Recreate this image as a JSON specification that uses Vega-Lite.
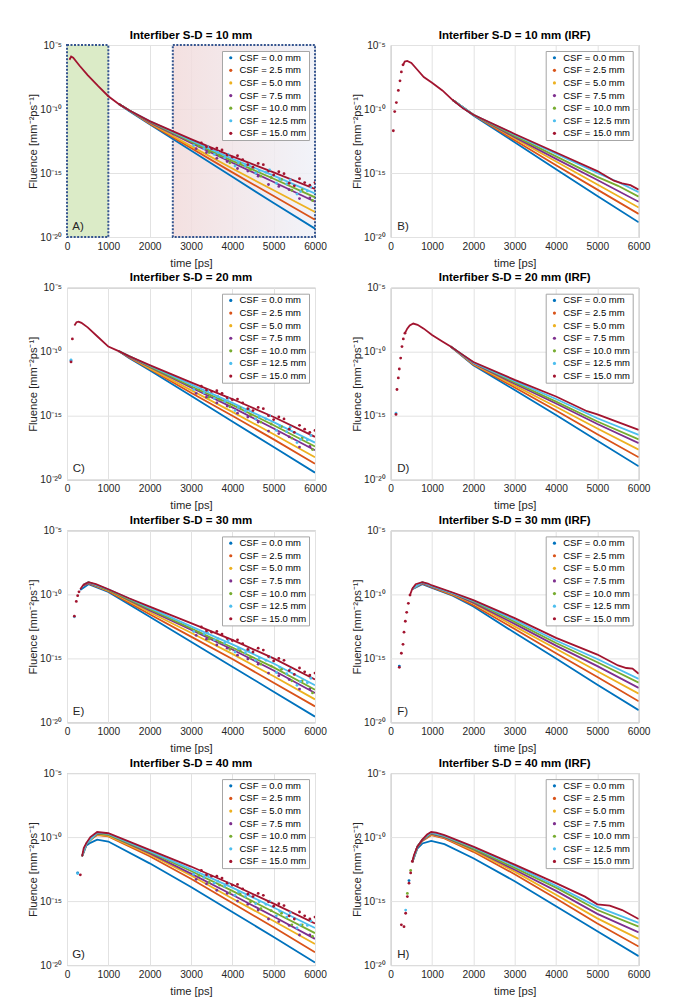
{
"$schema": "https://vega.github.io/schema/vega-lite/v6.json",
"padding": {"left": 27, "top": 29, "right": 0, "bottom": 0},
"config": {
  "font": "Liberation Sans",
  "view": {"stroke": "#a6a6a6", "strokeWidth": 1},
  "axis": {"domain": false, "ticks": false, "grid": true, "labelFlush": false, "gridColor": "#e2e2e2", "gridWidth": 1, "labelFont": "Liberation Sans", "labelFontSize": 10.2, "labelColor": "#262626", "titleFont": "Liberation Sans", "titleFontSize": 11.2, "titleFontWeight": "normal", "titleColor": "#262626"},
  "axisX": {"labelPadding": 4, "titlePadding": 6},
  "axisY": {"labelPadding": 5.5, "titlePadding": 1},
  "title": {"fontSize": 11.5, "fontWeight": "bold", "color": "#000000", "offset": -1, "anchor": "middle", "font": "Liberation Sans"},
  "legend": {"fillColor": "#ffffff", "strokeColor": "#a6a6a6", "padding": 2, "symbolOffset": 2, "rowPadding": 1.6, "labelFontSize": 9.5, "labelColor": "#000000", "labelOffset": 4, "symbolSize": 10, "symbolType": "circle", "labelFont": "Liberation Sans"}
},
"datasets": {
"A": [
{"c":0,"t":1250,"f":2.51e-10},{"c":0,"t":1500,"f":7.08e-11},{"c":0,"t":2000,"f":6.31e-12},{"c":0,"t":3000,"f":5.62e-14},{"c":0,"t":4000,"f":5.01e-16},{"c":0,"t":5000,"f":4.47e-18},{"c":0,"t":6000,"f":4.47e-20},
{"c":2.5,"t":1250,"f":2.51e-10},{"c":2.5,"t":1500,"f":7.94e-11},{"c":2.5,"t":2000,"f":7.08e-12},{"c":2.5,"t":3000,"f":8.91e-14},{"c":2.5,"t":4000,"f":1.12e-15},{"c":2.5,"t":5000,"f":1.58e-17},{"c":2.5,"t":6000,"f":2.24e-19},
{"c":5,"t":1250,"f":2.51e-10},{"c":5,"t":1500,"f":7.94e-11},{"c":5,"t":2000,"f":7.94e-12},{"c":5,"t":3000,"f":1.26e-13},{"c":5,"t":4000,"f":2.24e-15},{"c":5,"t":5000,"f":4.47e-17},{"c":5,"t":6000,"f":8.91e-19},
{"c":7.5,"t":1250,"f":2.51e-10},{"c":7.5,"t":1500,"f":7.94e-11},{"c":7.5,"t":2000,"f":8.91e-12},{"c":7.5,"t":3000,"f":2.24e-13},{"c":7.5,"t":4000,"f":6.31e-15},{"c":7.5,"t":5000,"f":2.0e-16},{"c":7.5,"t":6000,"f":5.62e-18},
{"c":10,"t":1250,"f":2.51e-10},{"c":10,"t":1500,"f":7.94e-11},{"c":10,"t":2000,"f":1e-11},{"c":10,"t":3000,"f":2.82e-13},{"c":10,"t":4000,"f":8.91e-15},{"c":10,"t":5000,"f":3.55e-16},{"c":10,"t":6000,"f":1.26e-17},
{"c":12.5,"t":1250,"f":2.51e-10},{"c":12.5,"t":1500,"f":7.94e-11},{"c":12.5,"t":2000,"f":1.12e-11},{"c":12.5,"t":3000,"f":3.55e-13},{"c":12.5,"t":4000,"f":1.26e-14},{"c":12.5,"t":5000,"f":6.31e-16},{"c":12.5,"t":6000,"f":2.51e-17},
{"c":15,"t":60,"f":7.08e-7},{"c":15,"t":100,"f":1.26e-6},{"c":15,"t":150,"f":1e-6},{"c":15,"t":300,"f":2.51e-7},{"c":15,"t":500,"f":4.47e-8},{"c":15,"t":750,"f":6.31e-9},{"c":15,"t":1000,"f":1e-9},{"c":15,"t":1250,"f":2.51e-10},{"c":15,"t":1500,"f":7.94e-11},{"c":15,"t":2000,"f":1.12e-11},{"c":15,"t":3000,"f":4.47e-13},{"c":15,"t":4000,"f":2.0e-14},{"c":15,"t":5000,"f":1.12e-15},{"c":15,"t":6000,"f":5.62e-17}
],
"Ap": [
{"c":7.5,"t":3125,"f":7.94e-14},{"c":7.5,"t":3375,"f":3.98e-14},{"c":7.5,"t":3625,"f":1.41e-14},{"c":7.5,"t":3875,"f":7.94e-15},{"c":7.5,"t":4125,"f":2.24e-15},{"c":7.5,"t":4375,"f":1.41e-15},{"c":7.5,"t":4625,"f":5.62e-16},{"c":7.5,"t":4875,"f":1.26e-16},{"c":7.5,"t":5125,"f":8.91e-17},{"c":7.5,"t":5375,"f":5.01e-17},{"c":7.5,"t":5625,"f":1e-17},{"c":7.5,"t":5875,"f":1.12e-17},
{"c":10,"t":3190,"f":1.26e-13},{"c":10,"t":3440,"f":3.98e-14},{"c":10,"t":3690,"f":2.24e-14},{"c":10,"t":3940,"f":6.31e-15},{"c":10,"t":4190,"f":5.62e-15},{"c":10,"t":4440,"f":1.78e-15},{"c":10,"t":4690,"f":5.62e-16},{"c":10,"t":4940,"f":4.47e-16},{"c":10,"t":5190,"f":3.16e-16},{"c":10,"t":5440,"f":4.47e-17},{"c":10,"t":5690,"f":5.01e-17},{"c":10,"t":5940,"f":7.08e-18},
{"c":12.5,"t":3065,"f":1.41e-13},{"c":12.5,"t":3315,"f":7.94e-14},{"c":12.5,"t":3565,"f":2.82e-14},{"c":12.5,"t":3815,"f":1.58e-14},{"c":12.5,"t":4065,"f":3.55e-15},{"c":12.5,"t":4315,"f":3.55e-15},{"c":12.5,"t":4565,"f":1e-15},{"c":12.5,"t":4815,"f":1.12e-15},{"c":12.5,"t":5065,"f":1.58e-16},{"c":12.5,"t":5315,"f":1.41e-16},{"c":12.5,"t":5565,"f":2.24e-17},{"c":12.5,"t":5815,"f":3.98e-17},
{"c":12.5,"t":3400,"f":1.12e-13},{"c":12.5,"t":3650,"f":3.98e-14},{"c":12.5,"t":3900,"f":2.82e-14},{"c":12.5,"t":4150,"f":6.31e-15},{"c":12.5,"t":4400,"f":4.47e-15},{"c":12.5,"t":4650,"f":1.41e-15},{"c":12.5,"t":4900,"f":1.78e-15},{"c":12.5,"t":5150,"f":3.16e-16},{"c":12.5,"t":5400,"f":2.82e-16},{"c":12.5,"t":5650,"f":3.55e-17},{"c":12.5,"t":5900,"f":7.94e-17},
{"c":15,"t":3250,"f":2.24e-13},{"c":15,"t":3500,"f":7.94e-14},{"c":15,"t":3750,"f":6.31e-14},{"c":15,"t":4000,"f":1.78e-14},{"c":15,"t":4250,"f":1.12e-14},{"c":15,"t":4500,"f":2.82e-15},{"c":15,"t":4750,"f":4.47e-15},{"c":15,"t":5000,"f":7.08e-16},{"c":15,"t":5250,"f":8.91e-16},{"c":15,"t":5500,"f":1e-16},{"c":15,"t":5750,"f":1.78e-16},{"c":15,"t":6000,"f":1.78e-16},
{"c":15,"t":3375,"f":1.12e-13},{"c":15,"t":3625,"f":8.91e-14},{"c":15,"t":3875,"f":2.51e-14},{"c":15,"t":4125,"f":2.24e-14},{"c":15,"t":4375,"f":4.47e-15},{"c":15,"t":4625,"f":5.62e-15},{"c":15,"t":4875,"f":1.41e-15},{"c":15,"t":5125,"f":1.26e-15},{"c":15,"t":5375,"f":1.58e-16},{"c":15,"t":5625,"f":3.55e-16},{"c":15,"t":5875,"f":1.12e-16}
],
"B": [
{"c":0,"t":1500,"f":5.01e-10},{"c":0,"t":2000,"f":3.16e-11},{"c":0,"t":3000,"f":2.51e-13},{"c":0,"t":4000,"f":2.0e-15},{"c":0,"t":5000,"f":1.58e-17},{"c":0,"t":6000,"f":1.41e-19},
{"c":2.5,"t":1500,"f":5.01e-10},{"c":2.5,"t":2000,"f":3.55e-11},{"c":2.5,"t":3000,"f":3.55e-13},{"c":2.5,"t":4000,"f":3.98e-15},{"c":2.5,"t":5000,"f":5.01e-17},{"c":2.5,"t":6000,"f":6.31e-19},
{"c":5,"t":1500,"f":5.01e-10},{"c":5,"t":2000,"f":3.55e-11},{"c":5,"t":3000,"f":5.01e-13},{"c":5,"t":4000,"f":7.94e-15},{"c":5,"t":5000,"f":1.26e-16},{"c":5,"t":6000,"f":2.0e-18},
{"c":7.5,"t":1500,"f":5.01e-10},{"c":7.5,"t":2000,"f":3.55e-11},{"c":7.5,"t":3000,"f":6.31e-13},{"c":7.5,"t":4000,"f":1.26e-14},{"c":7.5,"t":5000,"f":2.82e-16},{"c":7.5,"t":6000,"f":5.62e-18},
{"c":10,"t":1500,"f":5.01e-10},{"c":10,"t":2000,"f":3.55e-11},{"c":10,"t":3000,"f":7.94e-13},{"c":10,"t":4000,"f":2.0e-14},{"c":10,"t":5000,"f":5.01e-16},{"c":10,"t":5500,"f":1e-16},{"c":10,"t":6000,"f":1.41e-17},
{"c":12.5,"t":1500,"f":5.01e-10},{"c":12.5,"t":2000,"f":3.55e-11},{"c":12.5,"t":3000,"f":1e-12},{"c":12.5,"t":4000,"f":3.16e-14},{"c":12.5,"t":5000,"f":1e-15},{"c":12.5,"t":5500,"f":2.0e-16},{"c":12.5,"t":6000,"f":3.16e-17},
{"c":15,"t":300,"f":2.82e-7},{"c":15,"t":340,"f":5.01e-7},{"c":15,"t":400,"f":5.62e-7},{"c":15,"t":500,"f":3.98e-7},{"c":15,"t":650,"f":1.12e-7},{"c":15,"t":800,"f":3.16e-8},{"c":15,"t":1000,"f":1.12e-8},{"c":15,"t":1250,"f":2.82e-9},{"c":15,"t":1500,"f":5.01e-10},{"c":15,"t":1750,"f":1.12e-10},{"c":15,"t":2000,"f":3.55e-11},{"c":15,"t":3000,"f":1.12e-12},{"c":15,"t":4000,"f":3.98e-14},{"c":15,"t":5000,"f":1.41e-15},{"c":15,"t":5400,"f":2.51e-16},{"c":15,"t":5600,"f":1.58e-16},{"c":15,"t":5800,"f":1.12e-16},{"c":15,"t":6000,"f":5.01e-17}
],
"Bp": [
{"c":15,"t":64,"f":2.0e-12},{"c":15,"t":97,"f":6.31e-11},{"c":15,"t":137,"f":3.16e-10},{"c":15,"t":185,"f":2.82e-9},{"c":15,"t":225,"f":1.58e-8},{"c":15,"t":258,"f":7.94e-8},{"c":15,"t":298,"f":2.82e-7}
],
"C": [
{"c":0,"t":1250,"f":1.12e-10},{"c":0,"t":1500,"f":3.16e-11},{"c":0,"t":2000,"f":3.55e-12},{"c":0,"t":3000,"f":3.55e-14},{"c":0,"t":4000,"f":3.55e-16},{"c":0,"t":5000,"f":3.55e-18},{"c":0,"t":6000,"f":3.55e-20},
{"c":2.5,"t":1250,"f":1.12e-10},{"c":2.5,"t":1500,"f":3.55e-11},{"c":2.5,"t":2000,"f":4.47e-12},{"c":2.5,"t":3000,"f":6.31e-14},{"c":2.5,"t":4000,"f":1e-15},{"c":2.5,"t":5000,"f":1.41e-17},{"c":2.5,"t":6000,"f":1.78e-19},
{"c":5,"t":1250,"f":1.12e-10},{"c":5,"t":1500,"f":3.98e-11},{"c":5,"t":2000,"f":5.01e-12},{"c":5,"t":3000,"f":1e-13},{"c":5,"t":4000,"f":2.0e-15},{"c":5,"t":5000,"f":3.55e-17},{"c":5,"t":6000,"f":5.62e-19},
{"c":7.5,"t":1250,"f":1.12e-10},{"c":7.5,"t":1500,"f":3.98e-11},{"c":7.5,"t":2000,"f":6.31e-12},{"c":7.5,"t":3000,"f":1.58e-13},{"c":7.5,"t":4000,"f":4.47e-15},{"c":7.5,"t":5000,"f":1e-16},{"c":7.5,"t":6000,"f":2.0e-18},
{"c":10,"t":1250,"f":1.12e-10},{"c":10,"t":1500,"f":4.47e-11},{"c":10,"t":2000,"f":7.08e-12},{"c":10,"t":3000,"f":2.0e-13},{"c":10,"t":4000,"f":7.08e-15},{"c":10,"t":5000,"f":1.78e-16},{"c":10,"t":6000,"f":3.98e-18},
{"c":12.5,"t":1250,"f":1.12e-10},{"c":12.5,"t":1500,"f":4.47e-11},{"c":12.5,"t":2000,"f":7.94e-12},{"c":12.5,"t":3000,"f":2.82e-13},{"c":12.5,"t":4000,"f":1e-14},{"c":12.5,"t":5000,"f":3.16e-16},{"c":12.5,"t":6000,"f":7.94e-18},
{"c":15,"t":180,"f":1.12e-8},{"c":15,"t":230,"f":2.0e-8},{"c":15,"t":280,"f":2.24e-8},{"c":15,"t":350,"f":1.78e-8},{"c":15,"t":500,"f":7.94e-9},{"c":15,"t":750,"f":1.41e-9},{"c":15,"t":1000,"f":2.51e-10},{"c":15,"t":1250,"f":1.12e-10},{"c":15,"t":1500,"f":4.47e-11},{"c":15,"t":2000,"f":8.91e-12},{"c":15,"t":3000,"f":3.98e-13},{"c":15,"t":4000,"f":2.0e-14},{"c":15,"t":5000,"f":7.94e-16},{"c":15,"t":6000,"f":2.24e-17}
],
"Cp": [
{"c":0,"t":97,"f":2.0e-11},
{"c":7.5,"t":3125,"f":5.62e-14},{"c":7.5,"t":3375,"f":2.82e-14},{"c":7.5,"t":3625,"f":1e-14},{"c":7.5,"t":3875,"f":5.62e-15},{"c":7.5,"t":4125,"f":1.58e-15},{"c":7.5,"t":4375,"f":7.94e-16},{"c":7.5,"t":4625,"f":3.16e-16},{"c":7.5,"t":4875,"f":6.31e-17},{"c":7.5,"t":5125,"f":3.98e-17},{"c":7.5,"t":5375,"f":2.24e-17},{"c":7.5,"t":5625,"f":3.55e-18},{"c":7.5,"t":5875,"f":3.98e-18},
{"c":10,"t":3190,"f":1e-13},{"c":10,"t":3440,"f":2.82e-14},{"c":10,"t":3690,"f":1.78e-14},{"c":10,"t":3940,"f":5.01e-15},{"c":10,"t":4190,"f":3.98e-15},{"c":10,"t":4440,"f":1.12e-15},{"c":10,"t":4690,"f":3.16e-16},{"c":10,"t":4940,"f":2.24e-16},{"c":10,"t":5190,"f":1.41e-16},{"c":10,"t":5440,"f":1.78e-17},{"c":10,"t":5690,"f":1.78e-17},{"c":10,"t":5940,"f":2.24e-18},
{"c":12.5,"t":97,"f":2.24e-11},
{"c":12.5,"t":3065,"f":1.12e-13},{"c":12.5,"t":3315,"f":6.31e-14},{"c":12.5,"t":3565,"f":2.24e-14},{"c":12.5,"t":3815,"f":1.26e-14},{"c":12.5,"t":4065,"f":2.51e-15},{"c":12.5,"t":4315,"f":2.24e-15},{"c":12.5,"t":4565,"f":5.62e-16},{"c":12.5,"t":4815,"f":5.62e-16},{"c":12.5,"t":5065,"f":7.08e-17},{"c":12.5,"t":5315,"f":5.62e-17},{"c":12.5,"t":5565,"f":7.94e-18},{"c":12.5,"t":5815,"f":1.26e-17},
{"c":12.5,"t":3400,"f":8.91e-14},{"c":12.5,"t":3650,"f":3.16e-14},{"c":12.5,"t":3900,"f":2.24e-14},{"c":12.5,"t":4150,"f":4.47e-15},{"c":12.5,"t":4400,"f":3.16e-15},{"c":12.5,"t":4650,"f":7.94e-16},{"c":12.5,"t":4900,"f":1e-15},{"c":12.5,"t":5150,"f":1.58e-16},{"c":12.5,"t":5400,"f":1.26e-16},{"c":12.5,"t":5650,"f":1.41e-17},{"c":12.5,"t":5900,"f":2.82e-17},
{"c":15,"t":97,"f":1.58e-11},{"c":15,"t":130,"f":1e-9},
{"c":15,"t":3250,"f":2.0e-13},{"c":15,"t":3500,"f":7.94e-14},{"c":15,"t":3750,"f":5.62e-14},{"c":15,"t":4000,"f":1.78e-14},{"c":15,"t":4250,"f":1e-14},{"c":15,"t":4500,"f":2.51e-15},{"c":15,"t":4750,"f":3.55e-15},{"c":15,"t":5000,"f":5.01e-16},{"c":15,"t":5250,"f":5.62e-16},{"c":15,"t":5500,"f":5.01e-17},{"c":15,"t":5750,"f":8.91e-17},{"c":15,"t":6000,"f":7.08e-17},
{"c":15,"t":3375,"f":1e-13},{"c":15,"t":3625,"f":8.91e-14},{"c":15,"t":3875,"f":2.51e-14},{"c":15,"t":4125,"f":2.0e-14},{"c":15,"t":4375,"f":3.55e-15},{"c":15,"t":4625,"f":4.47e-15},{"c":15,"t":4875,"f":1e-15},{"c":15,"t":5125,"f":7.94e-16},{"c":15,"t":5375,"f":8.91e-17},{"c":15,"t":5625,"f":1.78e-16},{"c":15,"t":5875,"f":5.01e-17}
],
"D": [
{"c":0,"t":1450,"f":2.51e-10},{"c":0,"t":2000,"f":8.91e-12},{"c":0,"t":3000,"f":1e-13},{"c":0,"t":4000,"f":1.12e-15},{"c":0,"t":5000,"f":1.12e-17},{"c":0,"t":6000,"f":1.12e-19},
{"c":2.5,"t":1450,"f":2.51e-10},{"c":2.5,"t":2000,"f":1e-11},{"c":2.5,"t":3000,"f":1.58e-13},{"c":2.5,"t":4000,"f":2.51e-15},{"c":2.5,"t":5000,"f":3.55e-17},{"c":2.5,"t":6000,"f":5.62e-19},
{"c":5,"t":1450,"f":2.51e-10},{"c":5,"t":2000,"f":1.12e-11},{"c":5,"t":3000,"f":2.24e-13},{"c":5,"t":4000,"f":5.01e-15},{"c":5,"t":5000,"f":1e-16},{"c":5,"t":6000,"f":2.24e-18},
{"c":7.5,"t":1450,"f":2.51e-10},{"c":7.5,"t":2000,"f":1.26e-11},{"c":7.5,"t":3000,"f":3.16e-13},{"c":7.5,"t":4000,"f":8.91e-15},{"c":7.5,"t":5000,"f":2.24e-16},{"c":7.5,"t":6000,"f":7.08e-18},
{"c":10,"t":1450,"f":2.51e-10},{"c":10,"t":2000,"f":1.41e-11},{"c":10,"t":3000,"f":3.98e-13},{"c":10,"t":4000,"f":1.26e-14},{"c":10,"t":5000,"f":3.55e-16},{"c":10,"t":6000,"f":1.41e-17},
{"c":12.5,"t":1450,"f":2.51e-10},{"c":12.5,"t":2000,"f":1.41e-11},{"c":12.5,"t":3000,"f":5.01e-13},{"c":12.5,"t":4000,"f":2.0e-14},{"c":12.5,"t":5000,"f":6.31e-16},{"c":12.5,"t":6000,"f":3.16e-17},
{"c":15,"t":345,"f":2.82e-9},{"c":15,"t":400,"f":6.31e-9},{"c":15,"t":460,"f":1.12e-8},{"c":15,"t":546,"f":1.58e-8},{"c":15,"t":650,"f":1.26e-8},{"c":15,"t":800,"f":6.31e-9},{"c":15,"t":1000,"f":2.0e-9},{"c":15,"t":1250,"f":6.31e-10},{"c":15,"t":1450,"f":2.51e-10},{"c":15,"t":1700,"f":7.08e-11},{"c":15,"t":2000,"f":1.58e-11},{"c":15,"t":3000,"f":6.31e-13},{"c":15,"t":4000,"f":3.16e-14},{"c":15,"t":4750,"f":2.24e-15},{"c":15,"t":5000,"f":1.26e-15},{"c":15,"t":5500,"f":3.16e-16},{"c":15,"t":6000,"f":7.94e-17}
],
"Dp": [
{"c":12.5,"t":128,"f":1.58e-15},
{"c":15,"t":128,"f":1.26e-15},{"c":15,"t":152,"f":1.12e-13},{"c":15,"t":184,"f":8.91e-13},{"c":15,"t":208,"f":4.47e-12},{"c":15,"t":241,"f":3.16e-11},{"c":15,"t":273,"f":2.51e-10},{"c":15,"t":305,"f":1e-9},{"c":15,"t":345,"f":2.82e-9}
],
"E": [
{"c":0,"t":320,"f":2.24e-10},{"c":0,"t":520,"f":6.31e-10},{"c":0,"t":1000,"f":1.58e-10},{"c":0,"t":2000,"f":1.78e-12},{"c":0,"t":3000,"f":2.0e-14},{"c":0,"t":4000,"f":2.24e-16},{"c":0,"t":5000,"f":2.51e-18},{"c":0,"t":6000,"f":2.82e-20},
{"c":2.5,"t":400,"f":5.01e-10},{"c":2.5,"t":520,"f":7.08e-10},{"c":2.5,"t":1000,"f":1.78e-10},{"c":2.5,"t":2000,"f":2.82e-12},{"c":2.5,"t":3000,"f":5.01e-14},{"c":2.5,"t":4000,"f":8.91e-16},{"c":2.5,"t":5000,"f":1.26e-17},{"c":2.5,"t":6000,"f":1.78e-19},
{"c":5,"t":400,"f":5.01e-10},{"c":5,"t":520,"f":7.94e-10},{"c":5,"t":1000,"f":2.0e-10},{"c":5,"t":2000,"f":3.98e-12},{"c":5,"t":3000,"f":1e-13},{"c":5,"t":4000,"f":2.24e-15},{"c":5,"t":5000,"f":3.98e-17},{"c":5,"t":6000,"f":6.31e-19},
{"c":7.5,"t":400,"f":5.01e-10},{"c":7.5,"t":520,"f":7.94e-10},{"c":7.5,"t":1000,"f":2.24e-10},{"c":7.5,"t":2000,"f":5.62e-12},{"c":7.5,"t":3000,"f":1.78e-13},{"c":7.5,"t":4000,"f":5.01e-15},{"c":7.5,"t":5000,"f":1.12e-16},{"c":7.5,"t":6000,"f":2.0e-18},
{"c":10,"t":400,"f":5.62e-10},{"c":10,"t":520,"f":8.91e-10},{"c":10,"t":1000,"f":2.24e-10},{"c":10,"t":2000,"f":7.08e-12},{"c":10,"t":3000,"f":2.24e-13},{"c":10,"t":4000,"f":7.08e-15},{"c":10,"t":5000,"f":2.0e-16},{"c":10,"t":6000,"f":3.55e-18},
{"c":12.5,"t":400,"f":5.62e-10},{"c":12.5,"t":520,"f":8.91e-10},{"c":12.5,"t":1000,"f":2.51e-10},{"c":12.5,"t":2000,"f":8.91e-12},{"c":12.5,"t":3000,"f":3.16e-13},{"c":12.5,"t":4000,"f":1.26e-14},{"c":12.5,"t":5000,"f":3.98e-16},{"c":12.5,"t":6000,"f":7.94e-18},
{"c":15,"t":320,"f":2.51e-10},{"c":15,"t":400,"f":5.62e-10},{"c":15,"t":520,"f":8.91e-10},{"c":15,"t":700,"f":6.31e-10},{"c":15,"t":1000,"f":2.51e-10},{"c":15,"t":1500,"f":5.01e-11},{"c":15,"t":2000,"f":1.12e-11},{"c":15,"t":3000,"f":5.62e-13},{"c":15,"t":4000,"f":2.82e-14},{"c":15,"t":5000,"f":1e-15},{"c":15,"t":6000,"f":2.24e-17}
],
"Ep": [
{"c":7.5,"t":3125,"f":6.31e-14},{"c":7.5,"t":3375,"f":3.16e-14},{"c":7.5,"t":3625,"f":1.12e-14},{"c":7.5,"t":3875,"f":6.31e-15},{"c":7.5,"t":4125,"f":1.78e-15},{"c":7.5,"t":4375,"f":8.91e-16},{"c":7.5,"t":4625,"f":3.55e-16},{"c":7.5,"t":4875,"f":7.08e-17},{"c":7.5,"t":5125,"f":4.47e-17},{"c":7.5,"t":5375,"f":2.24e-17},{"c":7.5,"t":5625,"f":3.98e-18},{"c":7.5,"t":5875,"f":3.98e-18},
{"c":10,"t":3190,"f":1e-13},{"c":10,"t":3440,"f":3.16e-14},{"c":10,"t":3690,"f":1.78e-14},{"c":10,"t":3940,"f":5.01e-15},{"c":10,"t":4190,"f":3.98e-15},{"c":10,"t":4440,"f":1.12e-15},{"c":10,"t":4690,"f":3.55e-16},{"c":10,"t":4940,"f":2.51e-16},{"c":10,"t":5190,"f":1.41e-16},{"c":10,"t":5440,"f":1.78e-17},{"c":10,"t":5690,"f":1.78e-17},{"c":10,"t":5940,"f":2.0e-18},
{"c":12.5,"t":178,"f":1.78e-12},
{"c":12.5,"t":3065,"f":1.26e-13},{"c":12.5,"t":3315,"f":7.94e-14},{"c":12.5,"t":3565,"f":2.82e-14},{"c":12.5,"t":3815,"f":1.58e-14},{"c":12.5,"t":4065,"f":3.16e-15},{"c":12.5,"t":4315,"f":2.82e-15},{"c":12.5,"t":4565,"f":7.08e-16},{"c":12.5,"t":4815,"f":7.08e-16},{"c":12.5,"t":5065,"f":7.94e-17},{"c":12.5,"t":5315,"f":6.31e-17},{"c":12.5,"t":5565,"f":7.94e-18},{"c":12.5,"t":5815,"f":1.26e-17},
{"c":12.5,"t":3400,"f":1e-13},{"c":12.5,"t":3650,"f":3.55e-14},{"c":12.5,"t":3900,"f":2.51e-14},{"c":12.5,"t":4150,"f":5.62e-15},{"c":12.5,"t":4400,"f":3.98e-15},{"c":12.5,"t":4650,"f":1e-15},{"c":12.5,"t":4900,"f":1.26e-15},{"c":12.5,"t":5150,"f":2.0e-16},{"c":12.5,"t":5400,"f":1.41e-16},{"c":12.5,"t":5650,"f":1.58e-17},{"c":12.5,"t":5900,"f":2.82e-17},
{"c":15,"t":178,"f":2.0e-12},{"c":15,"t":225,"f":2.82e-11},{"c":15,"t":258,"f":7.94e-11},{"c":15,"t":290,"f":1.58e-10},
{"c":15,"t":3250,"f":2.82e-13},{"c":15,"t":3500,"f":1.12e-13},{"c":15,"t":3750,"f":7.94e-14},{"c":15,"t":4000,"f":2.51e-14},{"c":15,"t":4250,"f":1.41e-14},{"c":15,"t":4500,"f":3.16e-15},{"c":15,"t":4750,"f":4.47e-15},{"c":15,"t":5000,"f":6.31e-16},{"c":15,"t":5250,"f":7.08e-16},{"c":15,"t":5500,"f":5.62e-17},{"c":15,"t":5750,"f":8.91e-17},{"c":15,"t":6000,"f":7.08e-17},
{"c":15,"t":3375,"f":1.41e-13},{"c":15,"t":3625,"f":1.26e-13},{"c":15,"t":3875,"f":3.55e-14},{"c":15,"t":4125,"f":2.82e-14},{"c":15,"t":4375,"f":5.01e-15},{"c":15,"t":4625,"f":6.31e-15},{"c":15,"t":4875,"f":1.41e-15},{"c":15,"t":5125,"f":1e-15},{"c":15,"t":5375,"f":1.12e-16},{"c":15,"t":5625,"f":1.78e-16},{"c":15,"t":5875,"f":5.01e-17}
],
"F": [
{"c":0,"t":523,"f":2.51e-10},{"c":0,"t":765,"f":6.31e-10},{"c":0,"t":1000,"f":3.16e-10},{"c":0,"t":1500,"f":7.94e-11},{"c":0,"t":2000,"f":1.12e-11},{"c":0,"t":3000,"f":1e-13},{"c":0,"t":4000,"f":1e-15},{"c":0,"t":5000,"f":8.91e-18},{"c":0,"t":6000,"f":8.91e-20},
{"c":2.5,"t":523,"f":2.82e-10},{"c":2.5,"t":765,"f":7.08e-10},{"c":2.5,"t":1000,"f":3.55e-10},{"c":2.5,"t":1500,"f":8.91e-11},{"c":2.5,"t":2000,"f":1.41e-11},{"c":2.5,"t":3000,"f":2.0e-13},{"c":2.5,"t":4000,"f":2.51e-15},{"c":2.5,"t":5000,"f":3.55e-17},{"c":2.5,"t":6000,"f":4.47e-19},
{"c":5,"t":523,"f":2.82e-10},{"c":5,"t":765,"f":7.94e-10},{"c":5,"t":1000,"f":3.98e-10},{"c":5,"t":1500,"f":1e-10},{"c":5,"t":2000,"f":2.0e-11},{"c":5,"t":3000,"f":3.16e-13},{"c":5,"t":4000,"f":5.62e-15},{"c":5,"t":5000,"f":1e-16},{"c":5,"t":6000,"f":1.78e-18},
{"c":7.5,"t":523,"f":2.82e-10},{"c":7.5,"t":765,"f":7.94e-10},{"c":7.5,"t":1000,"f":3.98e-10},{"c":7.5,"t":1500,"f":1.12e-10},{"c":7.5,"t":2000,"f":2.24e-11},{"c":7.5,"t":3000,"f":5.01e-13},{"c":7.5,"t":4000,"f":1e-14},{"c":7.5,"t":5000,"f":2.51e-16},{"c":7.5,"t":6000,"f":5.01e-18},
{"c":10,"t":523,"f":2.82e-10},{"c":10,"t":765,"f":8.91e-10},{"c":10,"t":1000,"f":4.47e-10},{"c":10,"t":1500,"f":1.26e-10},{"c":10,"t":2000,"f":2.82e-11},{"c":10,"t":3000,"f":7.08e-13},{"c":10,"t":4000,"f":1.58e-14},{"c":10,"t":5000,"f":5.01e-16},{"c":10,"t":6000,"f":1.26e-17},
{"c":12.5,"t":523,"f":2.82e-10},{"c":12.5,"t":765,"f":8.91e-10},{"c":12.5,"t":1000,"f":4.47e-10},{"c":12.5,"t":1500,"f":1.26e-10},{"c":12.5,"t":2000,"f":3.16e-11},{"c":12.5,"t":3000,"f":1e-12},{"c":12.5,"t":4000,"f":2.51e-14},{"c":12.5,"t":5000,"f":8.91e-16},{"c":12.5,"t":6000,"f":2.51e-17},
{"c":15,"t":467,"f":8.91e-11},{"c":15,"t":523,"f":2.82e-10},{"c":15,"t":604,"f":6.31e-10},{"c":15,"t":765,"f":8.91e-10},{"c":15,"t":900,"f":7.08e-10},{"c":15,"t":1000,"f":5.01e-10},{"c":15,"t":1500,"f":1.41e-10},{"c":15,"t":2000,"f":3.55e-11},{"c":15,"t":3000,"f":1.41e-12},{"c":15,"t":4000,"f":3.98e-14},{"c":15,"t":5000,"f":2.0e-15},{"c":15,"t":5500,"f":2.82e-16},{"c":15,"t":5700,"f":1.78e-16},{"c":15,"t":5850,"f":1.58e-16},{"c":15,"t":6000,"f":6.31e-17}
],
"Fp": [
{"c":0,"t":209,"f":2.51e-16},
{"c":15,"t":209,"f":2.0e-16},{"c":15,"t":258,"f":2.51e-15},{"c":15,"t":298,"f":1.26e-14},{"c":15,"t":322,"f":1.12e-13},{"c":15,"t":354,"f":7.94e-13},{"c":15,"t":387,"f":3.98e-12},{"c":15,"t":427,"f":2.0e-11},{"c":15,"t":467,"f":8.91e-11}
],
"G": [
{"c":0,"t":365,"f":3.16e-12},{"c":0,"t":470,"f":2.24e-11},{"c":0,"t":565,"f":3.55e-11},{"c":0,"t":730,"f":6.31e-11},{"c":0,"t":1000,"f":4.47e-11},{"c":0,"t":2000,"f":8.91e-13},{"c":0,"t":3000,"f":1.26e-14},{"c":0,"t":4000,"f":1.41e-16},{"c":0,"t":5000,"f":1.58e-18},{"c":0,"t":6000,"f":1.58e-20},
{"c":2.5,"t":365,"f":3.16e-12},{"c":2.5,"t":470,"f":2.82e-11},{"c":2.5,"t":565,"f":7.08e-11},{"c":2.5,"t":730,"f":1.41e-10},{"c":2.5,"t":1000,"f":1.12e-10},{"c":2.5,"t":2000,"f":3.16e-12},{"c":2.5,"t":3000,"f":5.62e-14},{"c":2.5,"t":4000,"f":7.08e-16},{"c":2.5,"t":5000,"f":8.91e-18},{"c":2.5,"t":6000,"f":1e-19},
{"c":5,"t":365,"f":3.16e-12},{"c":5,"t":470,"f":3.16e-11},{"c":5,"t":730,"f":1.58e-10},{"c":5,"t":1000,"f":1.26e-10},{"c":5,"t":2000,"f":4.47e-12},{"c":5,"t":3000,"f":1e-13},{"c":5,"t":4000,"f":1.58e-15},{"c":5,"t":5000,"f":2.82e-17},{"c":5,"t":6000,"f":4.47e-19},
{"c":7.5,"t":365,"f":3.16e-12},{"c":7.5,"t":470,"f":3.16e-11},{"c":7.5,"t":730,"f":1.78e-10},{"c":7.5,"t":1000,"f":1.58e-10},{"c":7.5,"t":2000,"f":5.62e-12},{"c":7.5,"t":3000,"f":1.41e-13},{"c":7.5,"t":4000,"f":3.16e-15},{"c":7.5,"t":5000,"f":6.31e-17},{"c":7.5,"t":6000,"f":1.12e-18},
{"c":10,"t":365,"f":3.16e-12},{"c":10,"t":470,"f":3.16e-11},{"c":10,"t":730,"f":2.0e-10},{"c":10,"t":1000,"f":1.58e-10},{"c":10,"t":2000,"f":7.08e-12},{"c":10,"t":3000,"f":2.24e-13},{"c":10,"t":4000,"f":6.31e-15},{"c":10,"t":5000,"f":1.41e-16},{"c":10,"t":6000,"f":3.16e-18},
{"c":12.5,"t":365,"f":3.16e-12},{"c":12.5,"t":470,"f":3.16e-11},{"c":12.5,"t":730,"f":2.24e-10},{"c":12.5,"t":1000,"f":1.78e-10},{"c":12.5,"t":2000,"f":7.94e-12},{"c":12.5,"t":3000,"f":3.16e-13},{"c":12.5,"t":4000,"f":1.12e-14},{"c":12.5,"t":5000,"f":3.16e-16},{"c":12.5,"t":6000,"f":7.94e-18},
{"c":15,"t":365,"f":3.16e-12},{"c":15,"t":405,"f":1.41e-11},{"c":15,"t":470,"f":3.55e-11},{"c":15,"t":565,"f":1e-10},{"c":15,"t":730,"f":2.51e-10},{"c":15,"t":1000,"f":2.0e-10},{"c":15,"t":2000,"f":1e-11},{"c":15,"t":3000,"f":5.01e-13},{"c":15,"t":4000,"f":2.0e-14},{"c":15,"t":5000,"f":6.31e-16},{"c":15,"t":6000,"f":1.78e-17}
],
"Gp": [
{"c":0,"t":258,"f":1.58e-13},
{"c":7.5,"t":3125,"f":5.01e-14},{"c":7.5,"t":3375,"f":2.24e-14},{"c":7.5,"t":3625,"f":7.08e-15},{"c":7.5,"t":3875,"f":3.98e-15},{"c":7.5,"t":4125,"f":1e-15},{"c":7.5,"t":4375,"f":5.62e-16},{"c":7.5,"t":4625,"f":2.0e-16},{"c":7.5,"t":4875,"f":3.98e-17},{"c":7.5,"t":5125,"f":2.51e-17},{"c":7.5,"t":5375,"f":1.26e-17},{"c":7.5,"t":5625,"f":2.24e-18},{"c":7.5,"t":5875,"f":2.24e-18},
{"c":10,"t":3190,"f":1e-13},{"c":10,"t":3440,"f":2.82e-14},{"c":10,"t":3690,"f":1.78e-14},{"c":10,"t":3940,"f":4.47e-15},{"c":10,"t":4190,"f":3.55e-15},{"c":10,"t":4440,"f":8.91e-16},{"c":10,"t":4690,"f":2.51e-16},{"c":10,"t":4940,"f":1.78e-16},{"c":10,"t":5190,"f":1.12e-16},{"c":10,"t":5440,"f":1.41e-17},{"c":10,"t":5690,"f":1.41e-17},{"c":10,"t":5940,"f":1.78e-18},
{"c":12.5,"t":258,"f":1.41e-13},
{"c":12.5,"t":3065,"f":1.26e-13},{"c":12.5,"t":3315,"f":7.08e-14},{"c":12.5,"t":3565,"f":2.51e-14},{"c":12.5,"t":3815,"f":1.41e-14},{"c":12.5,"t":4065,"f":2.82e-15},{"c":12.5,"t":4315,"f":2.24e-15},{"c":12.5,"t":4565,"f":6.31e-16},{"c":12.5,"t":4815,"f":5.62e-16},{"c":12.5,"t":5065,"f":7.08e-17},{"c":12.5,"t":5315,"f":5.62e-17},{"c":12.5,"t":5565,"f":7.94e-18},{"c":12.5,"t":5815,"f":1.26e-17},
{"c":12.5,"t":3400,"f":1e-13},{"c":12.5,"t":3650,"f":3.55e-14},{"c":12.5,"t":3900,"f":2.51e-14},{"c":12.5,"t":4150,"f":5.01e-15},{"c":12.5,"t":4400,"f":3.16e-15},{"c":12.5,"t":4650,"f":8.91e-16},{"c":12.5,"t":4900,"f":1e-15},{"c":12.5,"t":5150,"f":1.58e-16},{"c":12.5,"t":5400,"f":1.26e-16},{"c":12.5,"t":5650,"f":1.41e-17},{"c":12.5,"t":5900,"f":2.82e-17},
{"c":15,"t":323,"f":1.12e-13},
{"c":15,"t":3250,"f":2.51e-13},{"c":15,"t":3500,"f":8.91e-14},{"c":15,"t":3750,"f":6.31e-14},{"c":15,"t":4000,"f":1.78e-14},{"c":15,"t":4250,"f":8.91e-15},{"c":15,"t":4500,"f":2.24e-15},{"c":15,"t":4750,"f":2.82e-15},{"c":15,"t":5000,"f":3.98e-16},{"c":15,"t":5250,"f":4.47e-16},{"c":15,"t":5500,"f":3.98e-17},{"c":15,"t":5750,"f":7.08e-17},{"c":15,"t":6000,"f":5.62e-17},
{"c":15,"t":3375,"f":1.12e-13},{"c":15,"t":3625,"f":8.91e-14},{"c":15,"t":3875,"f":2.51e-14},{"c":15,"t":4125,"f":2.0e-14},{"c":15,"t":4375,"f":3.55e-15},{"c":15,"t":4625,"f":3.98e-15},{"c":15,"t":4875,"f":8.91e-16},{"c":15,"t":5125,"f":6.31e-16},{"c":15,"t":5375,"f":7.08e-17},{"c":15,"t":5625,"f":1.41e-16},{"c":15,"t":5875,"f":3.98e-17}
],
"H": [
{"c":0,"t":523,"f":1.12e-12},{"c":0,"t":644,"f":1.26e-11},{"c":0,"t":765,"f":3.16e-11},{"c":0,"t":980,"f":5.01e-11},{"c":0,"t":1300,"f":2.82e-11},{"c":0,"t":2000,"f":2.24e-12},{"c":0,"t":3000,"f":3.55e-14},{"c":0,"t":4000,"f":3.98e-16},{"c":0,"t":5000,"f":4.47e-18},{"c":0,"t":6000,"f":5.01e-20},
{"c":2.5,"t":523,"f":1.12e-12},{"c":2.5,"t":644,"f":1.58e-11},{"c":2.5,"t":765,"f":5.01e-11},{"c":2.5,"t":980,"f":1.41e-10},{"c":2.5,"t":1300,"f":7.94e-11},{"c":2.5,"t":2000,"f":7.08e-12},{"c":2.5,"t":3000,"f":1.26e-13},{"c":2.5,"t":4000,"f":1.58e-15},{"c":2.5,"t":5000,"f":1.78e-17},{"c":2.5,"t":6000,"f":2.82e-19},
{"c":5,"t":523,"f":1.12e-12},{"c":5,"t":644,"f":1.78e-11},{"c":5,"t":765,"f":5.62e-11},{"c":5,"t":980,"f":1.58e-10},{"c":5,"t":1300,"f":8.91e-11},{"c":5,"t":2000,"f":8.91e-12},{"c":5,"t":3000,"f":2.0e-13},{"c":5,"t":4000,"f":3.16e-15},{"c":5,"t":5000,"f":4.47e-17},{"c":5,"t":6000,"f":1.12e-18},
{"c":7.5,"t":523,"f":1.12e-12},{"c":7.5,"t":644,"f":1.78e-11},{"c":7.5,"t":765,"f":5.62e-11},{"c":7.5,"t":980,"f":1.78e-10},{"c":7.5,"t":1300,"f":1e-10},{"c":7.5,"t":2000,"f":1.12e-11},{"c":7.5,"t":3000,"f":2.82e-13},{"c":7.5,"t":4000,"f":6.31e-15},{"c":7.5,"t":5000,"f":1e-16},{"c":7.5,"t":6000,"f":3.55e-18},
{"c":10,"t":523,"f":1.12e-12},{"c":10,"t":644,"f":1.78e-11},{"c":10,"t":765,"f":6.31e-11},{"c":10,"t":980,"f":2.0e-10},{"c":10,"t":1300,"f":1.12e-10},{"c":10,"t":2000,"f":1.26e-11},{"c":10,"t":3000,"f":3.98e-13},{"c":10,"t":4000,"f":1.12e-14},{"c":10,"t":5000,"f":2.0e-16},{"c":10,"t":6000,"f":1e-17},
{"c":12.5,"t":523,"f":1.12e-12},{"c":12.5,"t":644,"f":1.78e-11},{"c":12.5,"t":765,"f":6.31e-11},{"c":12.5,"t":980,"f":2.24e-10},{"c":12.5,"t":1300,"f":1.26e-10},{"c":12.5,"t":2000,"f":1.58e-11},{"c":12.5,"t":3000,"f":5.62e-13},{"c":12.5,"t":4000,"f":1.58e-14},{"c":12.5,"t":5000,"f":3.55e-16},{"c":12.5,"t":6000,"f":2.0e-17},
{"c":15,"t":523,"f":1.26e-12},{"c":15,"t":564,"f":3.98e-12},{"c":15,"t":644,"f":1.78e-11},{"c":15,"t":765,"f":6.31e-11},{"c":15,"t":880,"f":1.58e-10},{"c":15,"t":980,"f":2.51e-10},{"c":15,"t":1100,"f":2.24e-10},{"c":15,"t":1300,"f":1.41e-10},{"c":15,"t":2000,"f":1.78e-11},{"c":15,"t":3000,"f":7.08e-13},{"c":15,"t":4000,"f":2.51e-14},{"c":15,"t":4700,"f":2.24e-15},{"c":15,"t":5000,"f":5.62e-16},{"c":15,"t":5300,"f":4.47e-16},{"c":15,"t":5600,"f":2.0e-16},{"c":15,"t":6000,"f":3.98e-17}
],
"Hp": [
{"c":0,"t":443,"f":3.98e-14},
{"c":10,"t":403,"f":3.98e-15},{"c":10,"t":483,"f":2.51e-13},
{"c":12.5,"t":362,"f":2.0e-16},
{"c":15,"t":258,"f":1.41e-17},{"c":15,"t":322,"f":1e-17},{"c":15,"t":362,"f":1.12e-16},{"c":15,"t":403,"f":2.24e-15},{"c":15,"t":443,"f":2.51e-14},{"c":15,"t":483,"f":1.58e-13},{"c":15,"t":523,"f":1.26e-12}
],
"regions": [{"t":0,"t2":1000,"f":1e-20,"f2":1e-5}],
"regions2": [{"t":2560,"t2":6000,"f":1e-20,"f2":1e-5}],
"labels": [
{"p":"A","t":130,"f":6.31e-20},{"p":"B","t":160,"f":6.31e-20},{"p":"C","t":140,"f":6.31e-20},{"p":"D","t":160,"f":6.31e-20},
{"p":"E","t":140,"f":6.31e-20},{"p":"F","t":160,"f":6.31e-20},{"p":"G","t":125,"f":6.31e-20},{"p":"H","t":160,"f":6.31e-20}
]
},
"columns": 2,
"spacing": {"row": 50.7, "column": 75.7},
"bounds": "flush",
"resolve": {"scale": {"color": "independent", "stroke": "independent", "x": "independent", "y": "independent"}, "legend": {"color": "independent", "stroke": "independent"}},
"concat": [
 {"width": 248, "height": 192, "title": "Interfiber S-D = 10 mm",
  "encoding": {"x": {"field": "t", "type": "quantitative", "title": "time [ps]", "scale": {"domain": [0, 6000], "nice": false, "zero": false}, "axis": {"values": [0,1000,2000,3000,4000,5000,6000], "format": "d"}},
               "y": {"field": "f", "type": "quantitative", "title": "Fluence [mm⁻²ps⁻¹]", "scale": {"type": "log", "domain": [1e-20, 1e-5], "nice": false}, "axis": {"values": [1e-20,1e-15,1e-10,1e-5], "labelExpr": "datum.value < 1e-17 ? '10⁻²⁰' : datum.value < 1e-12 ? '10⁻¹⁵' : datum.value < 1e-7 ? '10⁻¹⁰' : '10⁻⁵'"}}},
  "layer": [
   {"data": {"name": "regions"}, "mark": {"type": "rect", "fill": "#dbebc7", "stroke": "#34548f", "strokeWidth": 2, "strokeDash": [2, 1.5]}, "encoding": {"x2": {"field": "t2"}, "y2": {"field": "f2"}}},
   {"data": {"name": "regions2"}, "mark": {"type": "rect", "fill": {"gradient": "linear", "x1": 0, "y1": 0, "x2": 1, "y2": 0, "stops": [{"offset": 0, "color": "#f2dbdb"}, {"offset": 1, "color": "#eff1f8"}]}, "fillOpacity": 0.85, "stroke": "#34548f", "strokeWidth": 2, "strokeDash": [2, 1.5]}, "encoding": {"x2": {"field": "t2"}, "y2": {"field": "f2"}}},
   {"data": {"name": "A"}, "mark": {"type": "line", "strokeWidth": 1.8, "clip": true}, "encoding": {"stroke": {"field": "c", "type": "nominal", "scale": {"range": ["#0072BD","#D95319","#EDB120","#7E2F8E","#77AC30","#4DBEEE","#A2142F"]}, "legend": null}}},
   {"data": {"name": "Ap"}, "mark": {"type": "circle", "size": 8, "opacity": 1, "clip": true}, "encoding": {"color": {"field": "c", "type": "nominal", "scale": {"domain": [0,2.5,5,7.5,10,12.5,15], "range": ["#0072BD","#D95319","#EDB120","#7E2F8E","#77AC30","#4DBEEE","#A2142F"]}, "legend": {"title": null, "orient": "top-right", "offset": 6, "labelExpr": "'CSF = ' + format(datum.value, '.1f') + ' mm'"}}}},
   {"data": {"name": "labels"}, "transform": [{"filter": "datum.p == 'A'"}], "mark": {"type": "text", "align": "left", "baseline": "middle", "fontSize": 11.5, "color": "#262626"}, "encoding": {"text": {"value": "A)"}}}
  ]},
 {"width": 248, "height": 192, "title": "Interfiber S-D = 10 mm (IRF)",
  "encoding": {"x": {"field": "t", "type": "quantitative", "title": "time [ps]", "scale": {"domain": [0, 6000], "nice": false, "zero": false}, "axis": {"values": [0,1000,2000,3000,4000,5000,6000], "format": "d"}},
               "y": {"field": "f", "type": "quantitative", "title": "Fluence [mm⁻²ps⁻¹]", "scale": {"type": "log", "domain": [1e-20, 1e-5], "nice": false}, "axis": {"values": [1e-20,1e-15,1e-10,1e-5], "labelExpr": "datum.value < 1e-17 ? '10⁻²⁰' : datum.value < 1e-12 ? '10⁻¹⁵' : datum.value < 1e-7 ? '10⁻¹⁰' : '10⁻⁵'"}}},
  "layer": [
   {"data": {"name": "B"}, "mark": {"type": "line", "strokeWidth": 1.8, "clip": true}, "encoding": {"stroke": {"field": "c", "type": "nominal", "scale": {"range": ["#0072BD","#D95319","#EDB120","#7E2F8E","#77AC30","#4DBEEE","#A2142F"]}, "legend": null}}},
   {"data": {"name": "Bp"}, "mark": {"type": "circle", "size": 8, "opacity": 1, "clip": true}, "encoding": {"color": {"field": "c", "type": "nominal", "scale": {"domain": [0,2.5,5,7.5,10,12.5,15], "range": ["#0072BD","#D95319","#EDB120","#7E2F8E","#77AC30","#4DBEEE","#A2142F"]}, "legend": {"title": null, "orient": "top-right", "offset": 6, "labelExpr": "'CSF = ' + format(datum.value, '.1f') + ' mm'"}}}},
   {"data": {"name": "labels"}, "transform": [{"filter": "datum.p == 'B'"}], "mark": {"type": "text", "align": "left", "baseline": "middle", "fontSize": 11.5, "color": "#262626"}, "encoding": {"text": {"value": "B)"}}}
  ]},
 {"width": 248, "height": 192, "title": "Interfiber S-D = 20 mm",
  "encoding": {"x": {"field": "t", "type": "quantitative", "title": "time [ps]", "scale": {"domain": [0, 6000], "nice": false, "zero": false}, "axis": {"values": [0,1000,2000,3000,4000,5000,6000], "format": "d"}},
               "y": {"field": "f", "type": "quantitative", "title": "Fluence [mm⁻²ps⁻¹]", "scale": {"type": "log", "domain": [1e-20, 1e-5], "nice": false}, "axis": {"values": [1e-20,1e-15,1e-10,1e-5], "labelExpr": "datum.value < 1e-17 ? '10⁻²⁰' : datum.value < 1e-12 ? '10⁻¹⁵' : datum.value < 1e-7 ? '10⁻¹⁰' : '10⁻⁵'"}}},
  "layer": [
   {"data": {"name": "C"}, "mark": {"type": "line", "strokeWidth": 1.8, "clip": true}, "encoding": {"stroke": {"field": "c", "type": "nominal", "scale": {"range": ["#0072BD","#D95319","#EDB120","#7E2F8E","#77AC30","#4DBEEE","#A2142F"]}, "legend": null}}},
   {"data": {"name": "Cp"}, "mark": {"type": "circle", "size": 8, "opacity": 1, "clip": true}, "encoding": {"color": {"field": "c", "type": "nominal", "scale": {"domain": [0,2.5,5,7.5,10,12.5,15], "range": ["#0072BD","#D95319","#EDB120","#7E2F8E","#77AC30","#4DBEEE","#A2142F"]}, "legend": {"title": null, "orient": "top-right", "offset": 6, "labelExpr": "'CSF = ' + format(datum.value, '.1f') + ' mm'"}}}},
   {"data": {"name": "labels"}, "transform": [{"filter": "datum.p == 'C'"}], "mark": {"type": "text", "align": "left", "baseline": "middle", "fontSize": 11.5, "color": "#262626"}, "encoding": {"text": {"value": "C)"}}}
  ]},
 {"width": 248, "height": 192, "title": "Interfiber S-D = 20 mm (IRF)",
  "encoding": {"x": {"field": "t", "type": "quantitative", "title": "time [ps]", "scale": {"domain": [0, 6000], "nice": false, "zero": false}, "axis": {"values": [0,1000,2000,3000,4000,5000,6000], "format": "d"}},
               "y": {"field": "f", "type": "quantitative", "title": "Fluence [mm⁻²ps⁻¹]", "scale": {"type": "log", "domain": [1e-20, 1e-5], "nice": false}, "axis": {"values": [1e-20,1e-15,1e-10,1e-5], "labelExpr": "datum.value < 1e-17 ? '10⁻²⁰' : datum.value < 1e-12 ? '10⁻¹⁵' : datum.value < 1e-7 ? '10⁻¹⁰' : '10⁻⁵'"}}},
  "layer": [
   {"data": {"name": "D"}, "mark": {"type": "line", "strokeWidth": 1.8, "clip": true}, "encoding": {"stroke": {"field": "c", "type": "nominal", "scale": {"range": ["#0072BD","#D95319","#EDB120","#7E2F8E","#77AC30","#4DBEEE","#A2142F"]}, "legend": null}}},
   {"data": {"name": "Dp"}, "mark": {"type": "circle", "size": 8, "opacity": 1, "clip": true}, "encoding": {"color": {"field": "c", "type": "nominal", "scale": {"domain": [0,2.5,5,7.5,10,12.5,15], "range": ["#0072BD","#D95319","#EDB120","#7E2F8E","#77AC30","#4DBEEE","#A2142F"]}, "legend": {"title": null, "orient": "top-right", "offset": 6, "labelExpr": "'CSF = ' + format(datum.value, '.1f') + ' mm'"}}}},
   {"data": {"name": "labels"}, "transform": [{"filter": "datum.p == 'D'"}], "mark": {"type": "text", "align": "left", "baseline": "middle", "fontSize": 11.5, "color": "#262626"}, "encoding": {"text": {"value": "D)"}}}
  ]},
 {"width": 248, "height": 192, "title": "Interfiber S-D = 30 mm",
  "encoding": {"x": {"field": "t", "type": "quantitative", "title": "time [ps]", "scale": {"domain": [0, 6000], "nice": false, "zero": false}, "axis": {"values": [0,1000,2000,3000,4000,5000,6000], "format": "d"}},
               "y": {"field": "f", "type": "quantitative", "title": "Fluence [mm⁻²ps⁻¹]", "scale": {"type": "log", "domain": [1e-20, 1e-5], "nice": false}, "axis": {"values": [1e-20,1e-15,1e-10,1e-5], "labelExpr": "datum.value < 1e-17 ? '10⁻²⁰' : datum.value < 1e-12 ? '10⁻¹⁵' : datum.value < 1e-7 ? '10⁻¹⁰' : '10⁻⁵'"}}},
  "layer": [
   {"data": {"name": "E"}, "mark": {"type": "line", "strokeWidth": 1.8, "clip": true}, "encoding": {"stroke": {"field": "c", "type": "nominal", "scale": {"range": ["#0072BD","#D95319","#EDB120","#7E2F8E","#77AC30","#4DBEEE","#A2142F"]}, "legend": null}}},
   {"data": {"name": "Ep"}, "mark": {"type": "circle", "size": 8, "opacity": 1, "clip": true}, "encoding": {"color": {"field": "c", "type": "nominal", "scale": {"domain": [0,2.5,5,7.5,10,12.5,15], "range": ["#0072BD","#D95319","#EDB120","#7E2F8E","#77AC30","#4DBEEE","#A2142F"]}, "legend": {"title": null, "orient": "top-right", "offset": 6, "labelExpr": "'CSF = ' + format(datum.value, '.1f') + ' mm'"}}}},
   {"data": {"name": "labels"}, "transform": [{"filter": "datum.p == 'E'"}], "mark": {"type": "text", "align": "left", "baseline": "middle", "fontSize": 11.5, "color": "#262626"}, "encoding": {"text": {"value": "E)"}}}
  ]},
 {"width": 248, "height": 192, "title": "Interfiber S-D = 30 mm (IRF)",
  "encoding": {"x": {"field": "t", "type": "quantitative", "title": "time [ps]", "scale": {"domain": [0, 6000], "nice": false, "zero": false}, "axis": {"values": [0,1000,2000,3000,4000,5000,6000], "format": "d"}},
               "y": {"field": "f", "type": "quantitative", "title": "Fluence [mm⁻²ps⁻¹]", "scale": {"type": "log", "domain": [1e-20, 1e-5], "nice": false}, "axis": {"values": [1e-20,1e-15,1e-10,1e-5], "labelExpr": "datum.value < 1e-17 ? '10⁻²⁰' : datum.value < 1e-12 ? '10⁻¹⁵' : datum.value < 1e-7 ? '10⁻¹⁰' : '10⁻⁵'"}}},
  "layer": [
   {"data": {"name": "F"}, "mark": {"type": "line", "strokeWidth": 1.8, "clip": true}, "encoding": {"stroke": {"field": "c", "type": "nominal", "scale": {"range": ["#0072BD","#D95319","#EDB120","#7E2F8E","#77AC30","#4DBEEE","#A2142F"]}, "legend": null}}},
   {"data": {"name": "Fp"}, "mark": {"type": "circle", "size": 8, "opacity": 1, "clip": true}, "encoding": {"color": {"field": "c", "type": "nominal", "scale": {"domain": [0,2.5,5,7.5,10,12.5,15], "range": ["#0072BD","#D95319","#EDB120","#7E2F8E","#77AC30","#4DBEEE","#A2142F"]}, "legend": {"title": null, "orient": "top-right", "offset": 6, "labelExpr": "'CSF = ' + format(datum.value, '.1f') + ' mm'"}}}},
   {"data": {"name": "labels"}, "transform": [{"filter": "datum.p == 'F'"}], "mark": {"type": "text", "align": "left", "baseline": "middle", "fontSize": 11.5, "color": "#262626"}, "encoding": {"text": {"value": "F)"}}}
  ]},
 {"width": 248, "height": 192, "title": "Interfiber S-D = 40 mm",
  "encoding": {"x": {"field": "t", "type": "quantitative", "title": "time [ps]", "scale": {"domain": [0, 6000], "nice": false, "zero": false}, "axis": {"values": [0,1000,2000,3000,4000,5000,6000], "format": "d"}},
               "y": {"field": "f", "type": "quantitative", "title": "Fluence [mm⁻²ps⁻¹]", "scale": {"type": "log", "domain": [1e-20, 1e-5], "nice": false}, "axis": {"values": [1e-20,1e-15,1e-10,1e-5], "labelExpr": "datum.value < 1e-17 ? '10⁻²⁰' : datum.value < 1e-12 ? '10⁻¹⁵' : datum.value < 1e-7 ? '10⁻¹⁰' : '10⁻⁵'"}}},
  "layer": [
   {"data": {"name": "G"}, "mark": {"type": "line", "strokeWidth": 1.8, "clip": true}, "encoding": {"stroke": {"field": "c", "type": "nominal", "scale": {"range": ["#0072BD","#D95319","#EDB120","#7E2F8E","#77AC30","#4DBEEE","#A2142F"]}, "legend": null}}},
   {"data": {"name": "Gp"}, "mark": {"type": "circle", "size": 8, "opacity": 1, "clip": true}, "encoding": {"color": {"field": "c", "type": "nominal", "scale": {"domain": [0,2.5,5,7.5,10,12.5,15], "range": ["#0072BD","#D95319","#EDB120","#7E2F8E","#77AC30","#4DBEEE","#A2142F"]}, "legend": {"title": null, "orient": "top-right", "offset": 6, "labelExpr": "'CSF = ' + format(datum.value, '.1f') + ' mm'"}}}},
   {"data": {"name": "labels"}, "transform": [{"filter": "datum.p == 'G'"}], "mark": {"type": "text", "align": "left", "baseline": "middle", "fontSize": 11.5, "color": "#262626"}, "encoding": {"text": {"value": "G)"}}}
  ]},
 {"width": 248, "height": 192, "title": "Interfiber S-D = 40 mm (IRF)",
  "encoding": {"x": {"field": "t", "type": "quantitative", "title": "time [ps]", "scale": {"domain": [0, 6000], "nice": false, "zero": false}, "axis": {"values": [0,1000,2000,3000,4000,5000,6000], "format": "d"}},
               "y": {"field": "f", "type": "quantitative", "title": "Fluence [mm⁻²ps⁻¹]", "scale": {"type": "log", "domain": [1e-20, 1e-5], "nice": false}, "axis": {"values": [1e-20,1e-15,1e-10,1e-5], "labelExpr": "datum.value < 1e-17 ? '10⁻²⁰' : datum.value < 1e-12 ? '10⁻¹⁵' : datum.value < 1e-7 ? '10⁻¹⁰' : '10⁻⁵'"}}},
  "layer": [
   {"data": {"name": "H"}, "mark": {"type": "line", "strokeWidth": 1.8, "clip": true}, "encoding": {"stroke": {"field": "c", "type": "nominal", "scale": {"range": ["#0072BD","#D95319","#EDB120","#7E2F8E","#77AC30","#4DBEEE","#A2142F"]}, "legend": null}}},
   {"data": {"name": "Hp"}, "mark": {"type": "circle", "size": 8, "opacity": 1, "clip": true}, "encoding": {"color": {"field": "c", "type": "nominal", "scale": {"domain": [0,2.5,5,7.5,10,12.5,15], "range": ["#0072BD","#D95319","#EDB120","#7E2F8E","#77AC30","#4DBEEE","#A2142F"]}, "legend": {"title": null, "orient": "top-right", "offset": 6, "labelExpr": "'CSF = ' + format(datum.value, '.1f') + ' mm'"}}}},
   {"data": {"name": "labels"}, "transform": [{"filter": "datum.p == 'H'"}], "mark": {"type": "text", "align": "left", "baseline": "middle", "fontSize": 11.5, "color": "#262626"}, "encoding": {"text": {"value": "H)"}}}
  ]}
]
}
